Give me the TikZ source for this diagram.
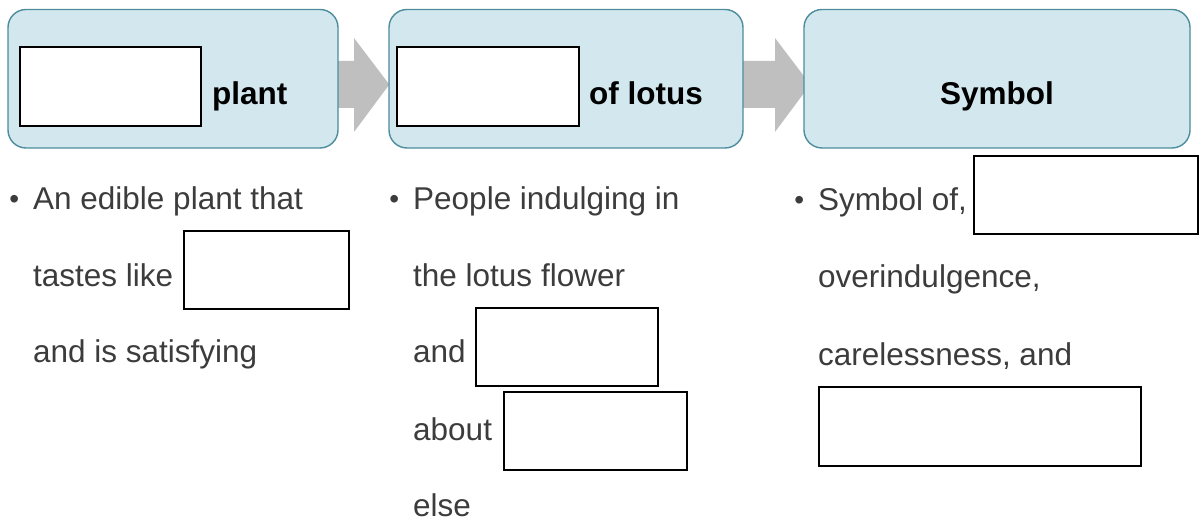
\documentclass[tikz,border=0pt]{standalone}
\usepackage{fontspec}
\setmainfont{Liberation Sans}
\usetikzlibrary{calc}

\definecolor{headfill}{HTML}{D2E8EE}
\definecolor{headline}{HTML}{4C8C9C}
\definecolor{arrowgray}{HTML}{C0BFC0}
\definecolor{bodytext}{HTML}{3C3C3C}

\pgfdeclarelayer{back}
\pgfsetlayers{back,main}

\tikzset{
	headbox/.style={draw=headline, line width=1.4pt, fill=headfill, rounded corners=18pt, inner sep=0pt, minimum height=138.5pt},
	blank/.style={draw=black, line width=2.2pt, fill=white, inner sep=0pt},
	headtext/.style={anchor=base west, inner sep=0pt, font=\fontsize{31.5}{38}\selectfont\bfseries},
	line/.style={anchor=base west, inner sep=0pt, text=bodytext, font=\fontsize{31.5}{38}\selectfont},
}
\newcommand{\bul}{\llap{\raisebox{1pt}{\fontsize{28}{28}\selectfont\textbullet}\hspace{14pt}}}

\begin{document}
\begin{tikzpicture}[x=1pt,y=1pt]
	\useasboundingbox (0,0) rectangle (1199,529);

	% header boxes
	\node[headbox, minimum width=330pt] (plant) at (173,450.25) {};
	\node[headbox, minimum width=354pt] (lotus) at (566,450.25) {};
	\node[headbox, minimum width=386pt] (symbol) at (997,450.25) {};

	% block arrows, behind the boxes
	\begin{pgfonlayer}{back}
	\fill[arrowgray] ($(plant.east)+(-2,17.75)$) -- (354,468) -- (354,491) -- ($(lotus.west)+(1,-5.75)$)
		-- (354,397) -- (354,421) -- ($(plant.east)+(-2,-29.25)$) -- cycle;
	\fill[arrowgray] ($(lotus.east)+(-2,17.75)$) -- (775,468) -- (775,491) -- ($(symbol.west)+(7,-5.75)$)
		-- (775,397) -- (775,421) -- ($(lotus.east)+(-2,-29.25)$) -- cycle;
	\end{pgfonlayer}

	% header contents
	\node[blank, minimum width=181pt, minimum height=79pt] (plantgap) at (110.5,442.5) {};
	\node[headtext] (planttext) at (212,424) {plant};
	\node[blank, minimum width=182pt, minimum height=79pt] (lotusgap) at (488,442.5) {};
	\node[headtext] (lotustext) at (589,424) {of lotus};
	\node[headtext, anchor=base] (symboltext) at (997,424) {Symbol};

	% first column
	\node[line] (a1) at (33,319) {\bul An edible plant that};
	\node[line] (a2) at (33,242) {tastes like};
	\node[blank, minimum width=165pt, minimum height=78pt] (tastegap) at (266.5,259) {};
	\node[line] (a3) at (33,166) {and is satisfying};

	% second column
	\node[line] (b1) at (413,319) {\bul People indulging in};
	\node[line] (b2) at (413,242) {the lotus flower};
	\node[line] (b3) at (413,166) {and};
	\node[blank, minimum width=182pt, minimum height=78pt] (andgap) at (567,182) {};
	\node[line] (b4) at (413,88) {about};
	\node[blank, minimum width=183pt, minimum height=78pt] (aboutgap) at (595.5,98) {};
	\node[line] (b5) at (413,12) {else};

	% third column
	\node[line] (c1) at (818,318) {\bul Symbol of,};
	\node[blank, minimum width=224pt, minimum height=78pt] (ofgap) at (1086,334) {};
	\node[line] (c2) at (818,241) {overindulgence,};
	\node[line] (c3) at (818,163) {carelessness, and};
	\node[blank, minimum width=322pt, minimum height=79pt] (andgap2) at (980,102.5) {};
\end{tikzpicture}
\end{document}
